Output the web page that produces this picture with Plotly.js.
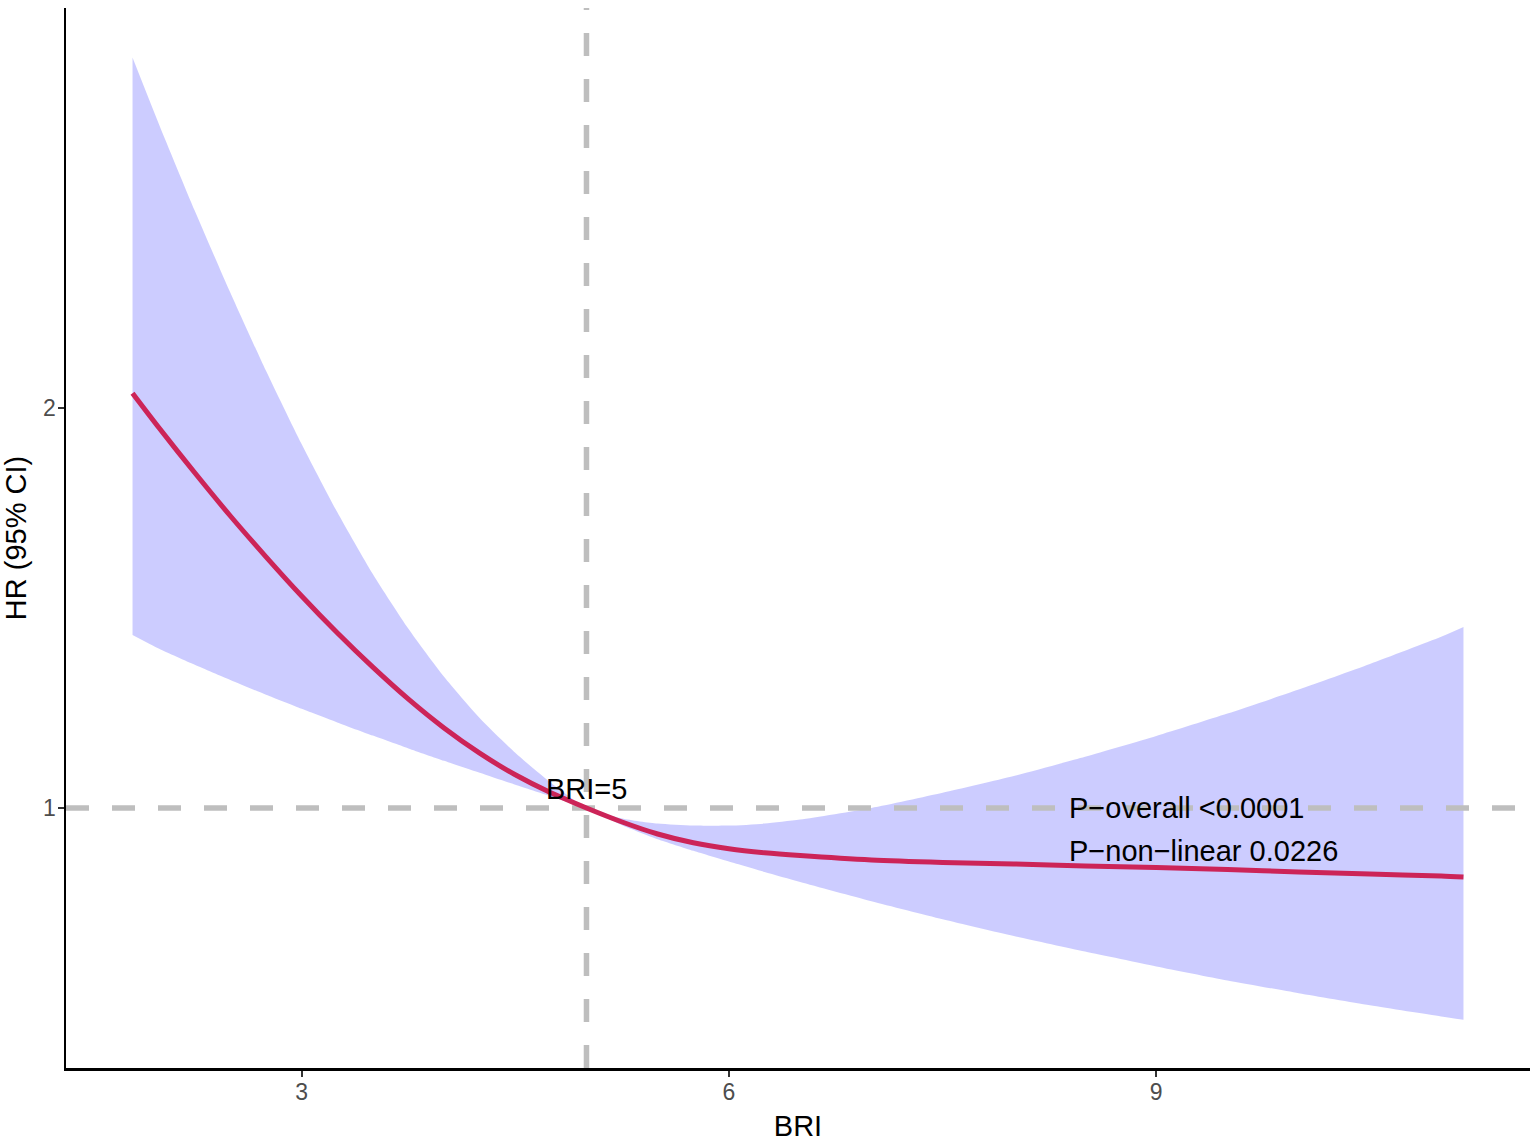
<!DOCTYPE html>
<html>
<head>
<meta charset="utf-8">
<script src="https://cdn.plot.ly/plotly-3.0.1.min.js"></script>
<style>
  html, body { margin: 0; padding: 0; background: #fff; }
  #chart { width: 1536px; height: 1142px; }
</style>
</head>
<body>
<div id="chart"></div>
<script>
// BRI values (x)
const bri = [1.813, 2.0, 2.25, 2.5, 2.75, 3.0, 3.25, 3.5, 3.75, 4.0, 4.25, 4.5, 4.75, 5.0,
             5.25, 5.5, 5.75, 6.0, 6.25, 6.5, 7.0, 7.5, 8.0, 8.5, 9.0, 9.5, 10.0, 10.5, 11.0, 11.157];
// hazard ratio estimate
const hr = [2.037, 1.95, 1.838, 1.73, 1.628, 1.53, 1.438, 1.352, 1.272, 1.20, 1.137, 1.083, 1.038, 1.0,
            0.965, 0.935, 0.913, 0.898, 0.888, 0.881, 0.870, 0.864, 0.860, 0.855, 0.851, 0.846, 0.840, 0.835, 0.830, 0.8275];
// 95% CI bounds
const upper = [2.876, 2.708, 2.493, 2.288, 2.093, 1.91, 1.74, 1.585, 1.448, 1.328, 1.225, 1.138, 1.063, 1.0,
               0.974, 0.961, 0.956, 0.956, 0.961, 0.971, 1.0, 1.038, 1.08, 1.128, 1.18, 1.236, 1.296, 1.36, 1.428, 1.4525];
const lower = [1.4325, 1.398, 1.358, 1.32, 1.283, 1.248, 1.214, 1.181, 1.149, 1.118, 1.088, 1.058, 1.029, 1.0,
               0.957, 0.922, 0.893, 0.866, 0.84, 0.815, 0.767, 0.722, 0.68, 0.641, 0.604, 0.569, 0.537, 0.507, 0.479, 0.4705];

// reference lines and axis settings
const xRange = [1.346, 11.624];
const yRange = [0.35, 3.0];
const refHR = 1;
const refBRI = 5;
const xTicks = [3, 6, 9];
const yTicks = [1, 2];

const font = 'Liberation Sans, Arial, sans-serif';
const dashGrey = '#BEBEBE';

// ribbon: lower edge then upper edge filled to it
const traceLower = {
    x: bri, y: lower,
    type: 'scatter', mode: 'lines',
    line: { width: 0, shape: 'spline', smoothing: 0.6 },
    hoverinfo: 'skip', showlegend: false,
};
const traceUpper = {
    x: bri, y: upper,
    type: 'scatter', mode: 'lines',
    line: { width: 0, shape: 'spline', smoothing: 0.6 },
    fill: 'tonexty',
    fillcolor: 'rgba(0, 0, 255, 0.2)',
    hoverinfo: 'skip', showlegend: false,
};

// dashed reference lines sit above the ribbon, below the curve
const traceHLine = {
    x: xRange, y: [refHR, refHR],
    type: 'scatter', mode: 'lines',
    line: { color: dashGrey, width: 5.5, dash: '23px,23px' },
    hoverinfo: 'skip', showlegend: false,
};
const traceVLine = {
    x: [refBRI, refBRI], y: yRange,
    type: 'scatter', mode: 'lines',
    line: { color: dashGrey, width: 5.5, dash: '23px,23px' },
    hoverinfo: 'skip', showlegend: false,
};

const traceHR = {
    x: bri, y: hr,
    type: 'scatter', mode: 'lines',
    line: { color: '#CC2458', width: 5, shape: 'spline', smoothing: 0.8 },
    showlegend: false,
};

const data = [traceLower, traceUpper, traceHLine, traceVLine, traceHR];

const layout = {
    width: 1536,
    height: 1142,
    paper_bgcolor: '#fff',
    plot_bgcolor: '#fff',
    margin: { t: 8, l: 66, r: 6, b: 74 },
    showlegend: false,
    font: { family: font, color: '#000' },
    xaxis: {
        range: xRange,
        tickvals: xTicks,
        ticks: 'outside', ticklen: 6, tickwidth: 2, tickcolor: '#333',
        ticklabelstandoff: -4,
        tickfont: { family: font, size: 23, color: '#4D4D4D' },
        showline: true, linecolor: '#000', linewidth: 2.5,
        showgrid: false, zeroline: false,
        title: { text: 'BRI', font: { family: font, size: 29, color: '#000' }, standoff: 12 },
    },
    yaxis: {
        range: yRange,
        tickvals: yTicks,
        ticks: 'outside', ticklen: 6, tickwidth: 2, tickcolor: '#333',
        ticklabelstandoff: -3,
        tickfont: { family: font, size: 23, color: '#4D4D4D' },
        showline: true, linecolor: '#000', linewidth: 2.5,
        showgrid: false, zeroline: false,
        title: { text: 'HR (95% CI)', font: { family: font, size: 29, color: '#000' }, standoff: 8 },
    },
    annotations: [
        {
            x: refBRI, y: 1.048, xref: 'x', yref: 'y',
            text: 'BRI=5', showarrow: false,
            xanchor: 'center', yanchor: 'middle',
            font: { family: font, size: 29, color: '#000' },
        },
        {
            x: 8.375, y: 1.0, xref: 'x', yref: 'y',
            text: 'P\u2212overall <0.0001', showarrow: false,
            xanchor: 'left', yanchor: 'middle',
            font: { family: font, size: 29, color: '#000' },
        },
        {
            x: 8.375, y: 0.8925, xref: 'x', yref: 'y',
            text: 'P\u2212non\u2212linear 0.0226', showarrow: false,
            xanchor: 'left', yanchor: 'middle',
            font: { family: font, size: 29, color: '#000' },
        },
    ],
};

Plotly.newPlot('chart', data, layout, { displayModeBar: false, staticPlot: true });
</script>
</body>
</html>
